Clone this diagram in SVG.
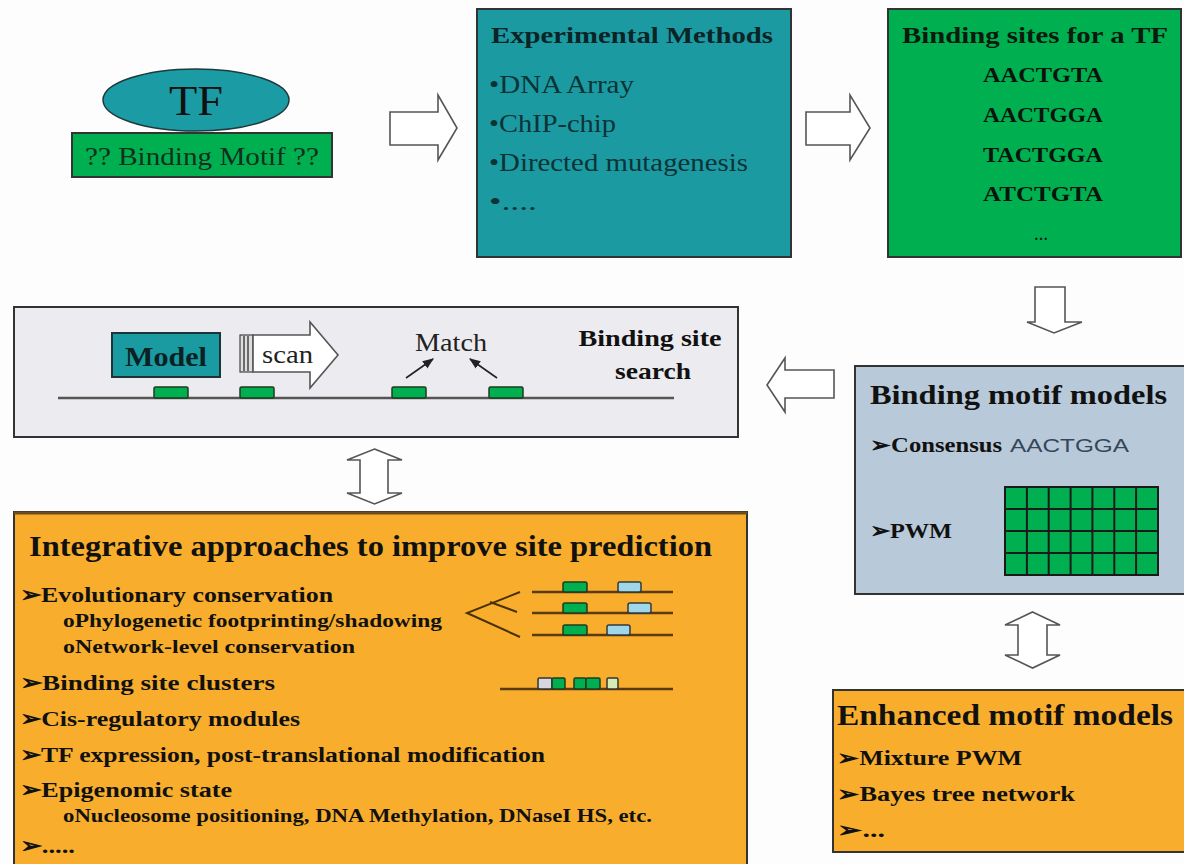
<svg xmlns="http://www.w3.org/2000/svg" width="1184" height="864" viewBox="0 0 1184 864">
  <style>
    .sf{font-family:"Liberation Serif","DejaVu Serif",serif}
    .ss{font-family:"Liberation Sans","DejaVu Sans",sans-serif}
    .b{font-weight:bold}
    .ink{fill:#111}
    .frame{stroke:#333;stroke-width:2}
    .blk{fill:#fff;stroke:#555;stroke-width:1.6;stroke-linejoin:miter}
    .teal{fill:#1b9ba4}
    .grn{fill:#00b050}
    .site{fill:#00b050;stroke:#1f3a20;stroke-width:1.5}
    .site2{fill:#9fd6e8;stroke:#2f3a40;stroke-width:1.5}
    .dna{stroke:#555;stroke-width:2.5}
    .odna{stroke:#5a3a10;stroke-width:2.5}
    .tree{stroke:#4a3008;stroke-width:2;fill:none}
  </style>
  <defs>
    <marker id="ah" viewBox="0 0 10 10" refX="9" refY="5" markerWidth="7" markerHeight="7" orient="auto">
      <path d="M0,1 L10,5 L0,9 z" fill="#222"/>
    </marker>
  </defs>

  <rect width="1184" height="864" fill="#fdfdfd"/>

  <!-- TF bound to unknown motif -->
  <g id="tf">
    <ellipse cx="196" cy="100" rx="93" ry="31" class="teal" stroke="#1d3a3c" stroke-width="1.5"/>
    <text x="196" y="115" text-anchor="middle" class="sf ink" font-size="42" textLength="54" lengthAdjust="spacingAndGlyphs">TF</text>
  </g>
  <g id="motif">
    <rect x="72" y="133" width="260" height="44" class="grn frame"/>
    <text x="202" y="165" text-anchor="middle" class="sf" fill="#14301c" font-size="25" textLength="234" lengthAdjust="spacingAndGlyphs">?? Binding Motif ??</text>
  </g>

  <!-- Experimental methods -->
  <g id="experimental">
    <rect x="477" y="9" width="314" height="248" fill="#1b9aa2" class="frame"/>
    <text x="491" y="43" class="sf b" fill="#0b2426" font-size="23" textLength="282" lengthAdjust="spacingAndGlyphs">Experimental Methods</text>
    <g class="sf" fill="#0c3336" font-size="26">
      <text x="489" y="93" textLength="145" lengthAdjust="spacingAndGlyphs">•DNA Array</text>
      <text x="489" y="132" textLength="127" lengthAdjust="spacingAndGlyphs">•ChIP-chip</text>
      <text x="489" y="171" textLength="259" lengthAdjust="spacingAndGlyphs">•Directed mutagenesis</text>
      <text x="489" y="210" textLength="48" lengthAdjust="spacingAndGlyphs">•....</text>
    </g>
  </g>

  <!-- Known binding sites -->
  <g id="sites">
    <rect x="888" y="9" width="293" height="248" class="grn frame"/>
    <text x="902" y="43" class="sf b" fill="#0a1a0e" font-size="23" textLength="266" lengthAdjust="spacingAndGlyphs">Binding sites for a TF</text>
    <g class="sf b" fill="#0a140c" font-size="20" text-anchor="middle">
      <text x="1043" y="82" textLength="120" lengthAdjust="spacingAndGlyphs">AACTGTA</text>
      <text x="1043" y="122" textLength="120" lengthAdjust="spacingAndGlyphs">AACTGGA</text>
      <text x="1043" y="162" textLength="120" lengthAdjust="spacingAndGlyphs">TACTGGA</text>
      <text x="1043" y="201" textLength="120" lengthAdjust="spacingAndGlyphs">ATCTGTA</text>
      <text x="1041" y="240" font-size="14">…</text>
    </g>
  </g>

  <!-- Binding site search -->
  <g id="search">
    <rect x="14" y="307" width="724" height="130" fill="#ecebef" class="frame"/>
    <line x1="58" y1="398" x2="674" y2="398" class="dna"/>
    <rect x="154" y="387" width="34" height="11" rx="1.5" class="site"/>
    <rect x="240" y="387" width="34" height="11" rx="1.5" class="site"/>
    <rect x="392" y="387" width="34" height="11" rx="1.5" class="site"/>
    <rect x="489" y="387" width="34" height="11" rx="1.5" class="site"/>
    <rect x="112" y="333" width="108" height="44" fill="#1a9ba2" stroke="#1d3336" stroke-width="2"/>
    <text x="166" y="366" text-anchor="middle" class="sf b" fill="#0b2224" font-size="28" textLength="82" lengthAdjust="spacingAndGlyphs">Model</text>
    <!-- scanning arrow -->
    <g>
      <rect x="240" y="335" width="13" height="37" fill="#ddd" stroke="#444" stroke-width="1.2"/>
      <line x1="244" y1="336" x2="244" y2="371" stroke="#444" stroke-width="1.5"/>
      <line x1="248" y1="336" x2="248" y2="371" stroke="#444" stroke-width="1.5"/>
      <polygon points="253,335 310,335 310,322 338,355 310,388 310,372 253,372" class="blk"/>
      <text x="262" y="363" class="sf" fill="#222" font-size="26" textLength="51" lengthAdjust="spacingAndGlyphs">scan</text>
    </g>
    <text x="451" y="351" text-anchor="middle" class="sf" fill="#222" font-size="26" textLength="72" lengthAdjust="spacingAndGlyphs">Match</text>
    <line x1="406" y1="378" x2="433" y2="359" stroke="#222" stroke-width="1.6" marker-end="url(#ah)"/>
    <line x1="497" y1="378" x2="470" y2="359" stroke="#222" stroke-width="1.6" marker-end="url(#ah)"/>
    <text x="650" y="346" text-anchor="middle" class="sf b ink" font-size="24" textLength="143" lengthAdjust="spacingAndGlyphs">Binding site</text>
    <text x="653" y="379" text-anchor="middle" class="sf b ink" font-size="24" textLength="76" lengthAdjust="spacingAndGlyphs">search</text>
  </g>

  <!-- Binding motif models -->
  <g id="models">
    <rect x="855" y="366" width="332" height="228" fill="#b8c9d9" class="frame"/>
    <text x="870" y="404" class="sf b ink" font-size="28" textLength="297" lengthAdjust="spacingAndGlyphs">Binding motif models</text>
    <text x="870" y="452" class="sf b ink" font-size="21" textLength="132" lengthAdjust="spacingAndGlyphs">➢Consensus</text>
    <text x="1010" y="452" class="ss" fill="#34475a" font-size="19" textLength="119" lengthAdjust="spacingAndGlyphs">AACTGGA</text>
    <text x="870" y="538" class="sf b ink" font-size="22" textLength="82" lengthAdjust="spacingAndGlyphs">➢PWM</text>
    <!-- position weight matrix grid -->
    <rect x="1005" y="487" width="153" height="88" class="grn" stroke="#1a1a1a" stroke-width="2"/>
    <path d="M1026.9,487V575M1048.7,487V575M1070.6,487V575M1092.4,487V575M1114.3,487V575M1136.1,487V575M1005,509H1158M1005,531H1158M1005,553H1158" stroke="#1a1a1a" stroke-width="2"/>
  </g>

  <!-- Integrative approaches -->
  <g id="integrative">
    <rect x="14" y="512" width="733" height="360" fill="#f8ae2c" class="frame"/>
    <line x1="14" y1="513" x2="747" y2="513" stroke="#6b4f22" stroke-width="3"/>
    <text x="29" y="556" class="sf b ink" font-size="29" textLength="683" lengthAdjust="spacingAndGlyphs">Integrative approaches to improve site prediction</text>
    <g class="sf b ink" font-size="22">
      <text x="20" y="602" textLength="313" lengthAdjust="spacingAndGlyphs">➢Evolutionary conservation</text>
      <text x="63" y="627" font-size="19" textLength="379" lengthAdjust="spacingAndGlyphs">oPhylogenetic footprinting/shadowing</text>
      <text x="63" y="653" font-size="19" textLength="292" lengthAdjust="spacingAndGlyphs">oNetwork-level conservation</text>
      <text x="20" y="690" textLength="255" lengthAdjust="spacingAndGlyphs">➢Binding site clusters</text>
      <text x="20" y="726" textLength="280" lengthAdjust="spacingAndGlyphs">➢Cis-regulatory modules</text>
      <text x="20" y="762" textLength="525" lengthAdjust="spacingAndGlyphs">➢TF expression, post-translational modification</text>
      <text x="20" y="797" textLength="212" lengthAdjust="spacingAndGlyphs">➢Epigenomic state</text>
      <text x="63" y="822" font-size="19" textLength="589" lengthAdjust="spacingAndGlyphs">oNucleosome positioning, DNA Methylation, DNaseI HS, etc.</text>
      <text x="20" y="853" textLength="55" lengthAdjust="spacingAndGlyphs">➢.....</text>
    </g>
    <!-- phylogeny with orthologous sites -->
    <path d="M520,592 L467,613 L520,637 M490,602 L517,612" class="tree"/>
    <line x1="532" y1="592" x2="673" y2="592" class="odna"/>
    <line x1="532" y1="613" x2="673" y2="613" class="odna"/>
    <line x1="532" y1="635" x2="673" y2="635" class="odna"/>
    <rect x="563" y="582" width="24" height="10" rx="2" class="site"/>
    <rect x="618" y="582" width="23" height="10" rx="2" class="site2"/>
    <rect x="563" y="603" width="24" height="10" rx="2" class="site"/>
    <rect x="628" y="603" width="23" height="10" rx="2" class="site2"/>
    <rect x="563" y="625" width="24" height="10" rx="2" class="site"/>
    <rect x="607" y="625" width="23" height="10" rx="2" class="site2"/>
    <!-- clustered sites -->
    <line x1="500" y1="689" x2="673" y2="689" class="odna"/>
    <rect x="538" y="678" width="14" height="11" rx="1.5" fill="#d6d6de" stroke="#333" stroke-width="1.5"/>
    <rect x="552" y="678" width="13" height="11" rx="1.5" class="site"/>
    <rect x="574" y="678" width="12" height="11" rx="1.5" class="site"/>
    <rect x="586" y="678" width="14" height="11" rx="1.5" class="site"/>
    <rect x="607" y="678" width="11" height="11" rx="1.5" fill="#d4ecb4" stroke="#333" stroke-width="1.5"/>
  </g>

  <!-- Enhanced motif models -->
  <g id="enhanced">
    <rect x="833" y="690" width="354" height="162" fill="#f8ae2c" class="frame"/>
    <text x="837" y="725" class="sf b ink" font-size="30" textLength="336" lengthAdjust="spacingAndGlyphs">Enhanced motif models</text>
    <g class="sf b ink" font-size="21">
      <text x="837" y="765" textLength="185" lengthAdjust="spacingAndGlyphs">➢Mixture PWM</text>
      <text x="837" y="801" textLength="238" lengthAdjust="spacingAndGlyphs">➢Bayes tree network</text>
      <text x="837" y="837" textLength="48" lengthAdjust="spacingAndGlyphs">➢...</text>
    </g>
  </g>

  <!-- Block-arrow connectors -->
  <g id="connectors">
    <polygon points="390,112 438,112 438,95 457,128 438,160 438,145 390,145" class="blk"/>
    <polygon points="806,112 850,112 850,95 870,128 850,160 850,145 806,145" class="blk"/>
    <polygon points="1035,287 1065,287 1065,322 1082,322 1054,333 1027,322 1035,322" class="blk"/>
    <polygon points="834,370 834,398 785,398 785,412 767,385 785,358 785,370" class="blk"/>
    <polygon points="374.5,449 402,460 388,460 388,493 402,493 374.5,504 347,493 360,493 360,460 347,460" class="blk"/>
    <polygon points="1032.5,612 1060,625 1047,625 1047,655 1060,655 1032.5,668 1005,655 1018,655 1018,625 1005,625" class="blk"/>
  </g>
</svg>
